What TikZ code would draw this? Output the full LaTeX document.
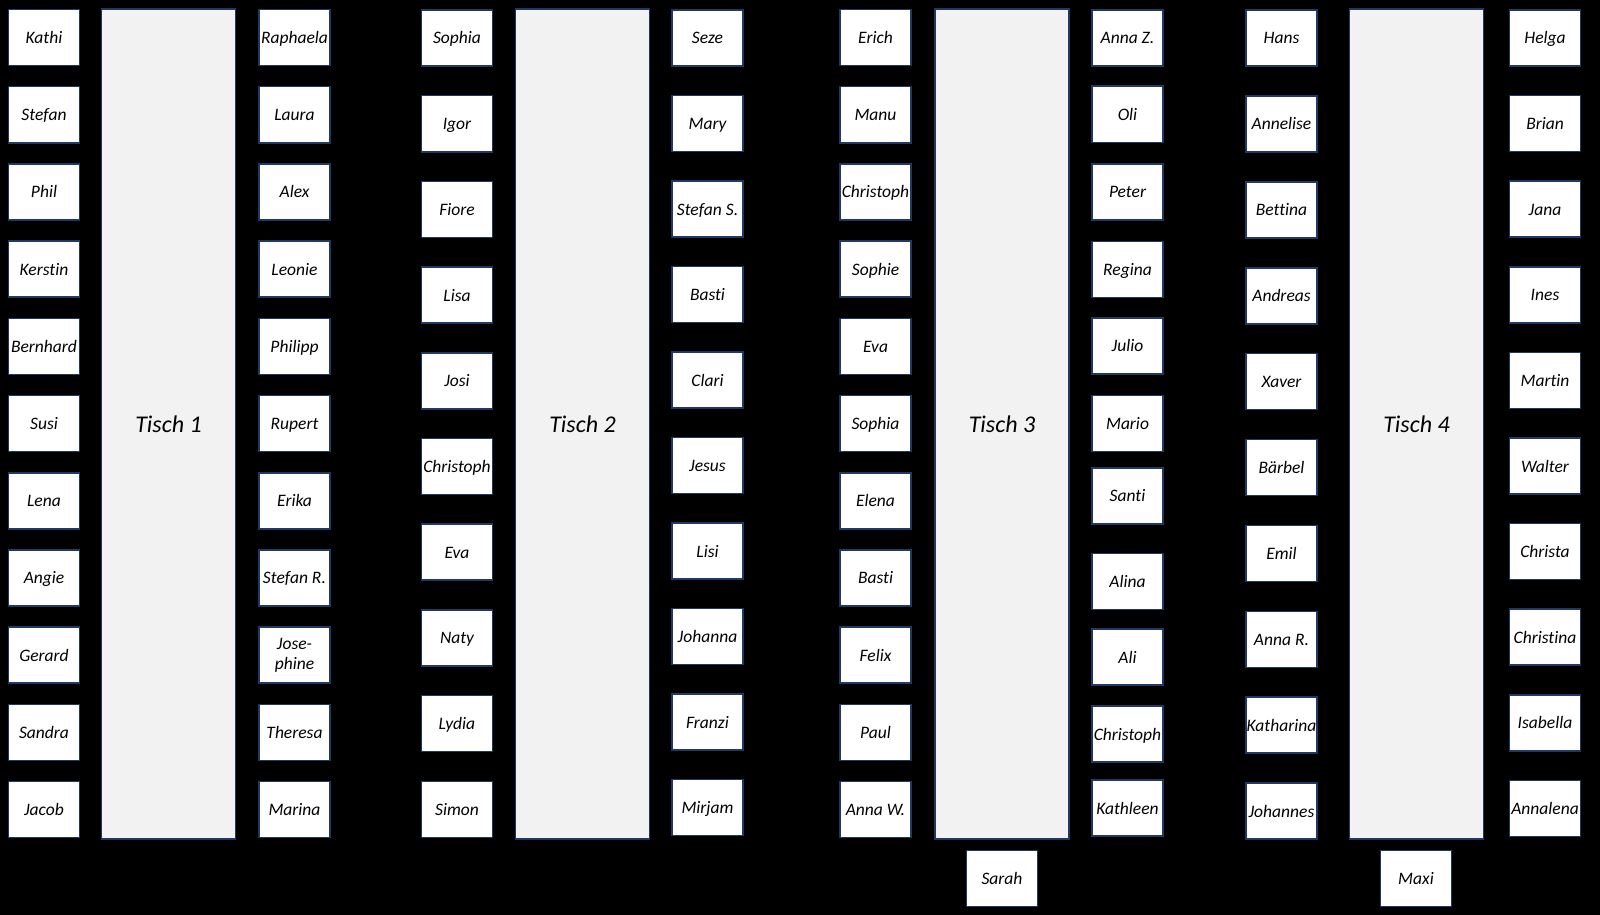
\documentclass[tikz,border=0pt]{standalone}
\usepackage{fontspec}
\setmainfont[Ligatures={NoCommon}]{Carlito}
\definecolor{navy}{HTML}{1F3864}
\definecolor{tablegray}{HTML}{F2F2F2}
\begin{document}
\begin{tikzpicture}[x=1pt,y=-1pt,
  seat/.style={draw=navy,line width=1.6pt,fill=white,minimum width=71pt,minimum height=56pt,inner sep=0pt,align=center,text height=14pt,text depth=2pt,font=\fontsize{17.5}{20}\selectfont\itshape},
  tablebox/.style={draw=navy,line width=1.6pt,fill=tablegray,minimum width=134pt,minimum height=830pt,inner sep=0pt,font=\fontsize{24}{26}\selectfont\itshape},
  tlabel/.style={font=\fontsize{24}{26}\selectfont\itshape,text height=18pt,text depth=2pt,inner sep=0pt}]
\fill[black] (0,0) rectangle (1600,915);
\useasboundingbox (0,0) rectangle (1600,915);
% Tisch 1
\node[tablebox] (T1) at (168.5,424) {};
\node[tlabel] at (T1.center) {Tisch 1};
\foreach \n [count=\i] in {Kathi,Stefan,Phil,Kerstin,Bernhard,Susi,Lena,Angie,Gerard,Sandra,Jacob}
  \node[seat] (a\i) at (44,{37.5+77.2*(\i-1)}) {\n};
\foreach \n [count=\i] in {Raphaela,Laura,Alex,Leonie,Philipp,Rupert,Erika,Stefan R.,Theresa,Marina}
  \node[seat] (b\i) at (294.5,{37.5+77.2*(\i-1+(\i>8))}) {\n};
\node[seat,text height=,text depth=] (josephine) at (294.5,{37.5+77.2*8}) {Jose-\\phine};
% Tisch 2
\node[tablebox] (T2) at (582.5,424) {};
\node[tlabel] at (T2.center) {Tisch 2};
\foreach \n [count=\i] in {Sophia,Igor,Fiore,Lisa,Josi,Christoph,Eva,Naty,Lydia,Simon}
  \node[seat] (c\i) at (457,{38+85.7*(\i-1)}) {\n};
\foreach \n [count=\i] in {Seze,Mary,Stefan S.,Basti,Clari,Jesus,Lisi,Johanna,Franzi,Mirjam}
  \node[seat] (d\i) at (707.5,{38+85.5*(\i-1)}) {\n};
% Tisch 3
\node[tablebox] (T3) at (1002,424) {};
\node[tlabel] at (T3.center) {Tisch 3};
\foreach \n [count=\i] in {Erich,Manu,Christoph,Sophie,Eva,Sophia,Elena,Basti,Felix,Paul,Anna W.}
  \node[seat] (e\i) at (875.5,{37.5+77.2*(\i-1)}) {\n};
\foreach \n/\y [count=\i] in {Anna Z./37.8,Oli/114.3,Peter/191.8,Regina/269.4,Julio/345.9,Mario/423.5,Santi/495.9,Alina/581.6,Ali/657,Christoph/734,Kathleen/808}
  \node[seat] (f\i) at (1127.5,\y) {\n};
\node[seat] (sarah) at (1002,878.5) {Sarah};
% Tisch 4
\node[tablebox] (T4) at (1416.5,424) {};
\node[tlabel] at (T4.center) {Tisch 4};
\foreach \n [count=\i] in {Hans,Annelise,Bettina,Andreas,Xaver,Bärbel,Emil,Anna R.,Katharina,Johannes}
  \node[seat] (g\i) at (1281.5,{38+85.9*(\i-1)}) {\n};
\foreach \n [count=\i] in {Helga,Brian,Jana,Ines,Martin,Walter,Christa,Christina,Isabella,Annalena}
  \node[seat] (h\i) at (1545,{38+85.6*(\i-1)}) {\n};
\node[seat] (maxi) at (1416,878.5) {Maxi};
\end{tikzpicture}
\end{document}
